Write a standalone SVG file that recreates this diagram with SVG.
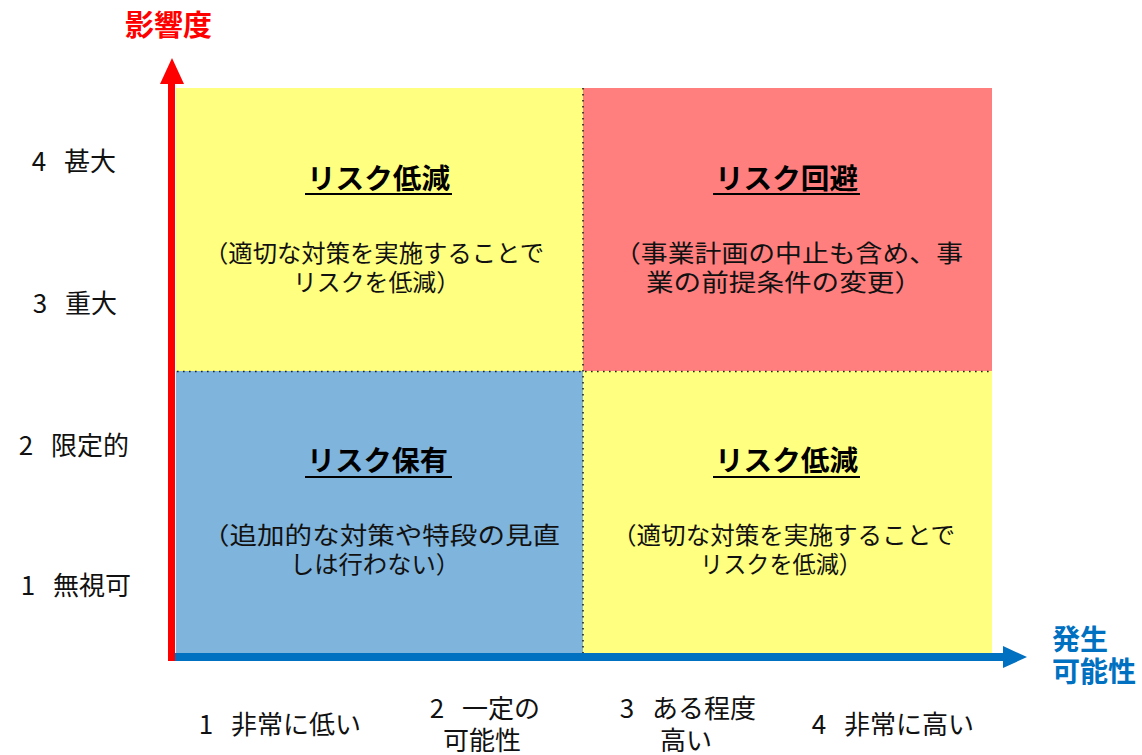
<svg xmlns="http://www.w3.org/2000/svg" width="1142" height="755" viewBox="0 0 1142 755">
<style>
  text { font-family: "Noto Sans CJK JP", "Noto Sans", sans-serif; }
  .title { font-size: 28px; font-weight: bold; fill: #000; }
  .body { font-size: 24px; fill: #111; }
  .ul { stroke: #000; stroke-width: 2.2; }
  .lbl { font-size: 26px; fill: #111; text-anchor: middle; }
  .div { stroke: #222; stroke-width: 1.6; stroke-dasharray: 1.6 4.4; fill: none; }
</style>
<rect width="1142" height="755" fill="#ffffff"/>

<g id="q-top-left">
  <rect x="176" y="88" width="407" height="283" fill="#FFFF80"/>
  <text class="title" x="307" y="189" textLength="143" lengthAdjust="spacingAndGlyphs">リスク低減</text>
  <line class="ul" x1="305" y1="194" x2="452" y2="194"/>
  <text class="body" x="204" y="262" textLength="340" lengthAdjust="spacingAndGlyphs">（適切な対策を実施することで</text>
  <text class="body" x="293" y="291" textLength="167" lengthAdjust="spacingAndGlyphs">リスクを低減）</text>
</g>

<g id="q-top-right">
  <rect x="583" y="88" width="409" height="283" fill="#FF7F7F"/>
  <text class="title" x="715" y="189" textLength="143" lengthAdjust="spacingAndGlyphs">リスク回避</text>
  <line class="ul" x1="713" y1="194" x2="860" y2="194"/>
  <text class="body" x="614" y="262" textLength="349" lengthAdjust="spacingAndGlyphs">（事業計画の中止も含め、事</text>
  <text class="body" x="646" y="291" textLength="276" lengthAdjust="spacingAndGlyphs">業の前提条件の変更）</text>
</g>

<g id="q-bottom-left">
  <rect x="176" y="371" width="407" height="283" fill="#7FB4DC"/>
  <text class="title" x="307" y="471" textLength="141" lengthAdjust="spacingAndGlyphs">リスク保有</text>
  <line class="ul" x1="305" y1="477" x2="452" y2="477"/>
  <text class="body" x="202" y="544" textLength="358" lengthAdjust="spacingAndGlyphs">（追加的な対策や特段の見直</text>
  <text class="body" x="290" y="573" textLength="170" lengthAdjust="spacingAndGlyphs">しは行わない）</text>
</g>

<g id="q-bottom-right">
  <rect x="583" y="371" width="409" height="283" fill="#FFFF80"/>
  <text class="title" x="715" y="471" textLength="143" lengthAdjust="spacingAndGlyphs">リスク低減</text>
  <line class="ul" x1="713" y1="477" x2="860" y2="477"/>
  <text class="body" x="612" y="544" textLength="343" lengthAdjust="spacingAndGlyphs">（適切な対策を実施することで</text>
  <text class="body" x="700" y="573" textLength="162" lengthAdjust="spacingAndGlyphs">リスクを低減）</text>
</g>

<g id="dividers">
  <line class="div" x1="177" y1="371.5" x2="992" y2="371.5"/>
  <line class="div" x1="583" y1="88" x2="583" y2="654"/>
</g>

<g id="connectors">
  <line x1="1004" y1="657" x2="168" y2="657" stroke="#0070C0" stroke-width="8"/>
  <polygon points="1003,646 1027,657 1003,668" fill="#0070C0"/>
  <line x1="171.5" y1="661" x2="171.5" y2="83" stroke="#FF0000" stroke-width="7"/>
  <polygon points="160,84 172,58 184,84" fill="#FF0000"/>
</g>

<g id="axis-titles">
  <text x="125" y="36" font-size="29" font-weight="bold" fill="#FF0000" textLength="87" lengthAdjust="spacingAndGlyphs">影響度</text>
  <text x="1052" y="650" font-size="28" font-weight="bold" fill="#0070C0">発生</text>
  <text x="1052" y="682" font-size="28" font-weight="bold" fill="#0070C0">可能性</text>
</g>

<g id="y-labels">
  <text class="lbl" x="74" y="171">4<tspan dx="12"> 甚大</tspan></text>
  <text class="lbl" x="75" y="313">3<tspan dx="12"> 重大</tspan></text>
  <text class="lbl" x="74" y="455">2<tspan dx="12"> 限定的</tspan></text>
  <text class="lbl" x="76" y="595">1<tspan dx="12"> 無視可</tspan></text>
</g>

<g id="x-labels">
  <text class="lbl" x="280" y="734">1<tspan dx="12"> 非常に低い</tspan></text>
  <text class="lbl" x="485" y="718">2<tspan dx="12"> 一定の</tspan></text>
  <text class="lbl" x="482" y="750">可能性</text>
  <text class="lbl" x="688" y="718">3<tspan dx="12"> ある程度</tspan></text>
  <text class="lbl" x="686" y="750">高い</text>
  <text class="lbl" x="893" y="734">4<tspan dx="12"> 非常に高い</tspan></text>
</g>
</svg>
